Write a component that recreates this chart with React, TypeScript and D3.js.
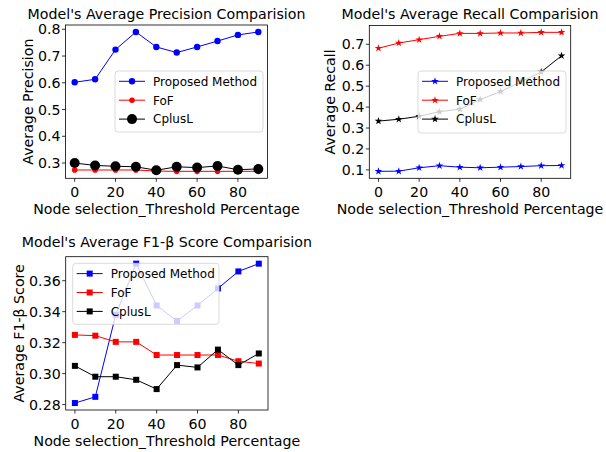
import React from "react";
import * as d3 from "d3";

const thresholds = [0, 10, 20, 30, 40, 50, 60, 70, 80, 90];
const xTicks = [0, 20, 40, 60, 80];
const seriesNames = ["Proposed Method", "FoF", "CplusL"];
const seriesColors = ["#0000ff", "#ff0000", "#000000"];

const precisionProposed = [0.602, 0.613, 0.724, 0.79, 0.734, 0.713, 0.734, 0.756, 0.779, 0.79];
const precisionFoF = [0.274, 0.274, 0.274, 0.274, 0.27, 0.269, 0.269, 0.269, 0.269, 0.269];
const precisionCplusL = [0.3, 0.291, 0.288, 0.286, 0.273, 0.286, 0.283, 0.289, 0.275, 0.278];
const precisionTicks = [0.3, 0.4, 0.5, 0.6, 0.7, 0.8];

const recallProposed = [0.093, 0.094, 0.11, 0.12, 0.113, 0.11, 0.113, 0.116, 0.12, 0.121];
const recallFoF = [0.681, 0.706, 0.722, 0.738, 0.752, 0.752, 0.754, 0.754, 0.757, 0.757];
const recallCplusL = [0.333, 0.342, 0.356, 0.378, 0.39, 0.436, 0.474, 0.52, 0.568, 0.645];
const recallTicks = [0.1, 0.2, 0.3, 0.4, 0.5, 0.6, 0.7];

const f1Proposed = [0.281, 0.285, 0.338, 0.371, 0.344, 0.334, 0.344, 0.355, 0.366, 0.371];
const f1FoF = [0.325, 0.3245, 0.3205, 0.3205, 0.312, 0.312, 0.312, 0.312, 0.308, 0.3065];
const f1CplusL = [0.305, 0.298, 0.298, 0.296, 0.29, 0.3055, 0.304, 0.3155, 0.3055, 0.313];
const f1Ticks = [0.28, 0.3, 0.32, 0.34, 0.36];

const FONT = "DejaVu Sans, sans-serif";
const FS = 14.2;

type Marker = { kind: "circle" | "star" | "square"; sizes: number[] };

type PanelCfg = {
  title: string;
  ylabel: string;
  series: number[][];
  yTicks: number[];
  yFmt: string;
  box: { left: number; right: number; top: number; bottom: number };
  marker: Marker;
  legend: { x: number; y: number; w: number; h: number };
  yLabelX: number;
  titleY: number;
};

const panels: PanelCfg[] = [
  {
    title: "Model's Average Precision Comparision",
    ylabel: "Average Precision",
    series: [precisionProposed, precisionFoF, precisionCplusL],
    yTicks: precisionTicks,
    yFmt: ".1f",
    box: { left: 65.5, right: 267.5, top: 25, bottom: 178.3 },
    marker: { kind: "circle", sizes: [3.2, 2.8, 5] },
    legend: { x: 115, y: 71, w: 148, h: 61 },
    yLabelX: 32.5,
    titleY: 19,
  },
  {
    title: "Model's Average Recall Comparision",
    ylabel: "Average Recall",
    series: [recallProposed, recallFoF, recallCplusL],
    yTicks: recallTicks,
    yFmt: ".1f",
    box: { left: 369.3, right: 570.7, top: 25.4, bottom: 178.3 },
    marker: { kind: "star", sizes: [4, 4, 4] },
    legend: { x: 418, y: 71, w: 148, h: 62 },
    yLabelX: 334.5,
    titleY: 19,
  },
  {
    title: "Model's Average F1-β Score Comparision",
    ylabel: "Average F1-β Score",
    series: [f1Proposed, f1FoF, f1CplusL],
    yTicks: f1Ticks,
    yFmt: ".2f",
    box: { left: 65.7, right: 268, top: 256.7, bottom: 410 },
    marker: { kind: "square", sizes: [3, 3, 3] },
    legend: { x: 72.7, y: 263.3, w: 146.3, h: 61 },
    yLabelX: 23.5,
    titleY: 247,
  },
];

function MarkerShape({ kind, r, x, y, color }: { kind: string; r: number; x: number; y: number; color: string }) {
  if (kind === "circle") return <circle cx={x} cy={y} r={r} fill={color} />;
  if (kind === "square") return <rect x={x - r} y={y - r} width={2 * r} height={2 * r} fill={color} />;
  const size = (r * r) / 0.8908;
  const p = d3.symbol(d3.symbolStar, size)() || "";
  return <path d={p} transform={`translate(${x},${y})`} fill={color} />;
}

function Panel({ cfg }: { cfg: PanelCfg }) {
  const { box } = cfg;
  const xExt = d3.extent(thresholds) as [number, number];
  const xPad = (xExt[1] - xExt[0]) * 0.05;
  const x = d3.scaleLinear().domain([xExt[0] - xPad, xExt[1] + xPad]).range([box.left, box.right]);
  const all = cfg.series.flat();
  const yExt = d3.extent(all) as [number, number];
  const yPad = (yExt[1] - yExt[0]) * 0.05;
  const y = d3.scaleLinear().domain([yExt[0] - yPad, yExt[1] + yPad]).range([box.bottom, box.top]);
  const fmt = d3.format(cfg.yFmt);
  const line = d3
    .line<number>()
    .x((_, i) => x(thresholds[i]))
    .y((d) => y(d));
  const cx = (box.left + box.right) / 2;
  const cy = (box.top + box.bottom) / 2;
  const lg = cfg.legend;
  return (
    <g>
      <text x={cx} y={cfg.titleY} textAnchor="middle" fontSize={FS} fontFamily={FONT} fill="#000">
        {cfg.title}
      </text>
      {cfg.series.map((s, si) => (
        <g key={si}>
          <path d={line(s) || ""} fill="none" stroke={seriesColors[si]} strokeWidth={1} />
          {s.map((v, i) => (
            <MarkerShape key={i} kind={cfg.marker.kind} r={cfg.marker.sizes[si]} x={x(thresholds[i])} y={y(v)} color={seriesColors[si]} />
          ))}
        </g>
      ))}
      <rect x={box.left} y={box.top} width={box.right - box.left} height={box.bottom - box.top} fill="none" stroke="#000" strokeWidth={0.8} />
      {xTicks.map((t) => (
        <g key={t}>
          <line x1={x(t)} x2={x(t)} y1={box.bottom} y2={box.bottom + 3.5} stroke="#000" strokeWidth={0.8} />
          <text x={x(t)} y={box.bottom + 19} textAnchor="middle" fontSize={FS} fontFamily={FONT} fill="#000">
            {t}
          </text>
        </g>
      ))}
      {cfg.yTicks.map((t) => (
        <g key={t}>
          <line x1={box.left - 3.5} x2={box.left} y1={y(t)} y2={y(t)} stroke="#000" strokeWidth={0.8} />
          <text x={box.left - 5} y={y(t)} dy="0.36em" textAnchor="end" fontSize={FS} fontFamily={FONT} fill="#000">
            {fmt(t)}
          </text>
        </g>
      ))}
      <text x={cx} y={box.bottom + 36} textAnchor="middle" fontSize={FS} fontFamily={FONT} fill="#000">
        Node selection_Threshold Percentage
      </text>
      <text
        transform={`translate(${cfg.yLabelX},${cy}) rotate(-90)`}
        textAnchor="middle"
        fontSize={FS}
        fontFamily={FONT}
        fill="#000"
      >
        {cfg.ylabel}
      </text>
      <rect x={lg.x} y={lg.y} width={lg.w} height={lg.h} rx={3} fill="rgba(255,255,255,0.8)" stroke="#d0d0d0" strokeWidth={0.8} />
      {seriesNames.map((n, i) => {
        const ry = lg.y + 10.3 + i * 18.9;
        return (
          <g key={n}>
            <line x1={lg.x + 4} x2={lg.x + 30} y1={ry} y2={ry} stroke={seriesColors[i]} strokeWidth={1} />
            <MarkerShape kind={cfg.marker.kind} r={cfg.marker.sizes[i]} x={lg.x + 17} y={ry} color={seriesColors[i]} />
            <text x={lg.x + 38} y={ry} dy="0.36em" fontSize={12} fontFamily={FONT} fill="#000">
              {n}
            </text>
          </g>
        );
      })}
    </g>
  );
}

export default function App() {
  return (
    <svg width={606} height={452} style={{ position: "absolute", left: 0, top: 0, background: "#fff" }}>
      <rect x={0} y={0} width={606} height={452} fill="#fff" />
      {panels.map((p, i) => (
        <Panel key={i} cfg={p} />
      ))}
    </svg>
  );
}
